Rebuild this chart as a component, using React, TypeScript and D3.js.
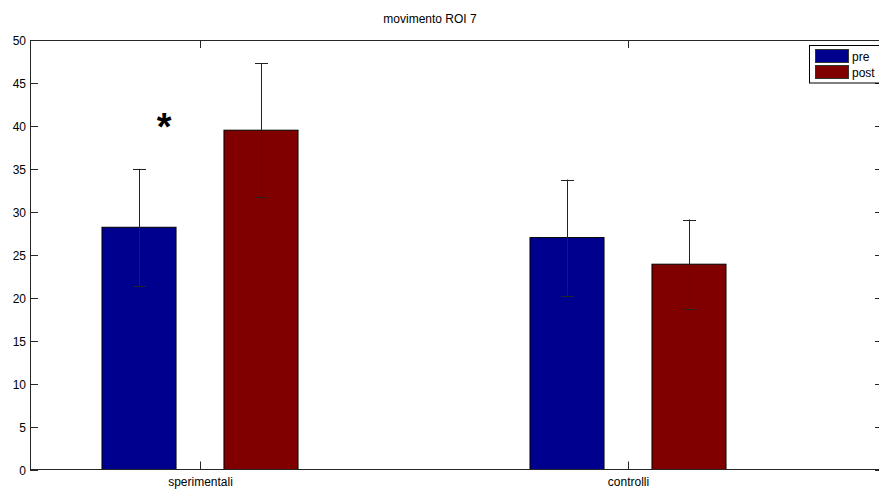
import React from "react";
import * as d3 from "d3";

const categories = ["sperimentali", "controlli"];
const series = ["pre", "post"];
const preValues = [28.2, 27.0];
const postValues = [39.5, 23.9];
const preErrors = [6.8, 6.75];
const postErrors = [7.8, 5.2];
const yTicks = [0, 5, 10, 15, 20, 25, 30, 35, 40, 45, 50];
const colors = ["#00008F", "#800000"];
const title = "movimento ROI 7";
const starPos = { x: 0.916, y: 41.0 };

const W = 879;
const H = 489;
const left = 30;
const right = 883;
const top = 40;
const bottom = 469.5;

export default function App() {
  const x = d3.scaleLinear().domain([1, 2]).range([200, 628]);
  const xDomainLeft = x.invert(left);
  const xDomainRight = x.invert(right);
  const xs = d3.scaleLinear().domain([xDomainLeft, xDomainRight]).range([left, right]);
  const y = d3.scaleLinear().domain([0, 50]).range([bottom, top]);
  const offset = 0.1425;
  const barW = 0.173;
  const font = "Liberation Sans, Arial, sans-serif";
  const valuesBySeries = [preValues, postValues];
  const errBySeries = [preErrors, postErrors];
  const capHalf = 6.5;

  return (
    <svg
      width={W}
      height={H}
      style={{ position: "absolute", left: 0, top: 0, background: "#fff" }}
      fontFamily={font}
    >
      <rect x={0} y={0} width={W} height={H} fill="#fff" />
      <text x={430} y={23} textAnchor="middle" fontSize={12} fill="#000">
        {title}
      </text>
      {categories.map((c, i) =>
        series.map((s, j) => {
          const cx = i + 1 + (j === 0 ? -offset : offset);
          const v = valuesBySeries[j][i];
          const e = errBySeries[j][i];
          const x0 = xs(cx - barW / 2);
          const x1 = xs(cx + barW / 2);
          const px = Math.round(xs(cx)) + 0.5;
          return (
            <g key={c + s}>
              <rect
                x={x0}
                y={y(v)}
                width={x1 - x0}
                height={y(0) - y(v)}
                fill={colors[j]}
                stroke="#000"
                strokeWidth={1}
              />
              <line x1={px} x2={px} y1={y(v + e)} y2={y(v - e)} stroke="#222" strokeWidth={1} />
              <line x1={px - capHalf} x2={px + capHalf} y1={Math.round(y(v + e)) + 0.5} y2={Math.round(y(v + e)) + 0.5} stroke="#222" />
              <line x1={px - capHalf} x2={px + capHalf} y1={Math.round(y(v - e)) + 0.5} y2={Math.round(y(v - e)) + 0.5} stroke="#222" />
            </g>
          );
        })
      )}
      <rect x={left + 0.5} y={top + 0.5} width={right - left} height={bottom - top - 0.5} fill="none" stroke="#262626" strokeWidth={1} />
      {yTicks.map((t) => {
        const py = Math.round(y(t)) + 0.5;
        return (
          <g key={t}>
            <line x1={left} x2={left + 8} y1={py} y2={py} stroke="#262626" />
            <line x1={right - 8} x2={right} y1={py} y2={py} stroke="#262626" />
            <text x={left - 4} y={py + 4} textAnchor="end" fontSize={12} fill="#000">
              {t}
            </text>
          </g>
        );
      })}
      {categories.map((c, i) => {
        const px = Math.round(xs(i + 1)) + 0.5;
        return (
          <g key={c}>
            <line x1={px} x2={px} y1={bottom} y2={bottom - 8} stroke="#262626" />
            <line x1={px} x2={px} y1={top} y2={top + 8} stroke="#262626" />
            <text x={px} y={bottom + 16} textAnchor="middle" fontSize={12} fill="#000">
              {c}
            </text>
          </g>
        );
      })}
      <text
        x={xs(starPos.x)}
        y={y(starPos.y) + 23}
        textAnchor="middle"
        fontSize={38}
        fontWeight="bold"
        fill="#000"
      >
        *
      </text>
      <rect x={809.5} y={45.5} width={80} height={37.5} fill="#fff" stroke="#000" strokeWidth={1} />
      {series.map((s, j) => (
        <g key={s}>
          <rect x={815.5} y={49.5 + j * 16} width={33} height={13} fill={colors[j]} stroke="#333" />
          <text x={852} y={61 + j * 16} fontSize={12} fill="#000">
            {s}
          </text>
        </g>
      ))}
    </svg>
  );
}
